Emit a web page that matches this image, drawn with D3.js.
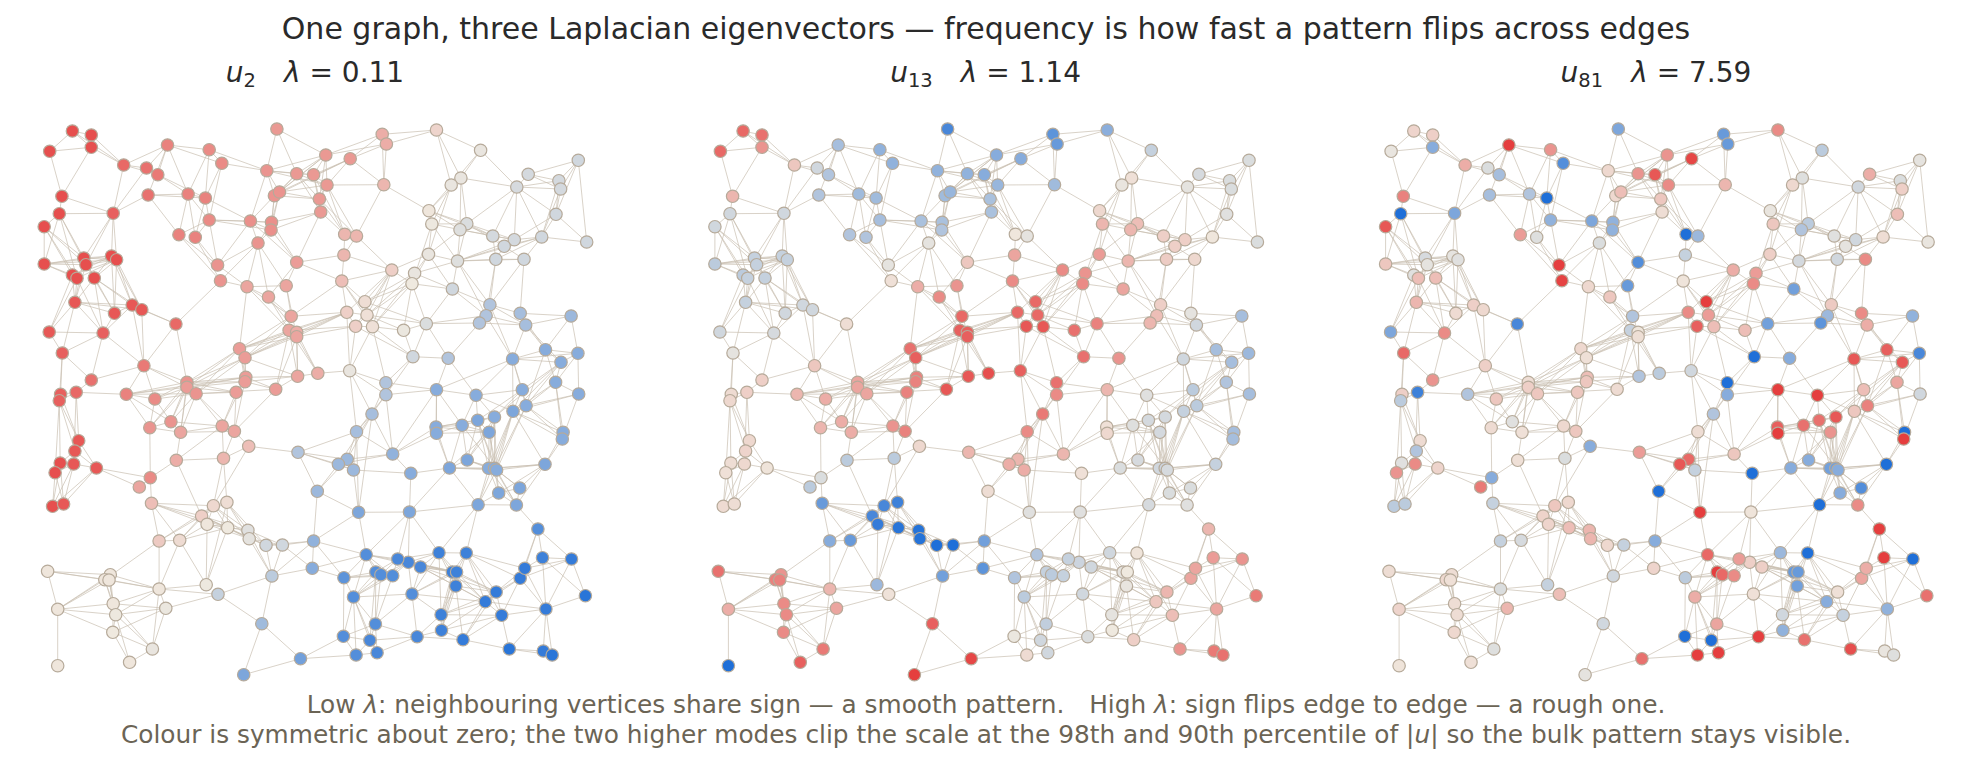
<!DOCTYPE html>
<html><head><meta charset="utf-8">
<script src="https://cdnjs.cloudflare.com/ajax/libs/d3/7.8.5/d3.min.js"></script>
<style>html,body{margin:0;padding:0;background:#fff}svg{display:block}text{font-family:"DejaVu Sans",sans-serif}</style>
</head><body><svg id="c" width="1972" height="770"></svg>
<script>
const titleText = "One graph, three Laplacian eigenvectors \u2014 frequency is how fast a pattern flips across edges";
const modeNames = ["2","13","81"];
const eigenvalues = ["0.11","1.14","7.59"];
const nodeX = [
72.4,91.3,91.3,49.7,167.5,209.2,221.8,123.7,146.5,157.8,
61.9,148.1,188.1,205.4,59.3,113.2,44.2,209.2,178.9,195.3,
44.2,83.8,85.9,111.5,116.6,72.4,77,94.3,74.9,114.5,
132.2,141.8,49.2,103.1,175.9,62.3,143.9,91.3,60.6,59.3,
76.2,126.3,154.9,186.9,186.9,196.1,236.1,245.8,245,275.7,
297.6,317.8,349.7,239.5,245,289.1,296.7,296.7,291.2,268.5,
247,286.2,220.5,217.6,296.7,258,250.4,271.5,271,274.4,
279.5,266.8,296.7,313.6,325.8,350.2,327,319.4,320.7,276.9,
382.2,386.4,383.8,436.5,480.6,460.9,451.2,428.9,431.8,466.8,
460,428.5,457.5,344.7,356.5,343.9,341.8,391.8,414.6,412,
452.4,364.9,346.8,367,355.6,372.5,403.6,426.3,489.9,486.1,
479.4,520.2,525.7,571.1,516.8,528.2,558.9,560.6,578.3,556,
586.7,541.7,514.3,492.8,504.2,495.8,524,412.9,448.2,512.6,
545.5,561,577.9,385.9,385.9,436.5,476,522.3,555.6,578.7,
526.1,513,494.5,477.7,462.1,436,436.5,489.1,372,356.5,
392.7,347.2,338.4,353.5,410.8,449.5,467.2,488.6,494.5,496.6,
545,519.8,498.7,478.1,516.4,563.1,562.3,317.3,298,358.6,
409.5,537.9,248.7,223.5,234.4,222.2,180.6,170.9,149.8,176.3,
150.3,139.3,78.7,74.9,60.2,73.7,55.1,96.4,52.6,63.6,
151.5,213.4,226.9,201.6,207.1,227.7,247.9,249.2,266,282.4,
313.6,312.3,271.9,218,206.2,159.1,179.7,47.6,110.3,104.8,
109,159.1,165.8,113.2,57.7,115.7,112.8,152.4,129.6,57.7,
261.8,243.7,300.5,343.4,356.1,377.1,369.9,375.4,417.1,441.5,
463,441.1,501.7,485.3,496.2,455.8,452.4,456.6,520.2,524.8,
542.5,571.5,585.4,545.9,509.3,543.3,552.2,439,466.3,420.5,
408.3,397.7,366.2,375.8,380.9,392.7,343.9,353.5,412];
const nodeY = [
131,135,147.3,151.3,145,149.7,163.3,165,168,174.7,
196.3,195,194,198,213.7,213.3,226.7,220,234.7,237.3,
264,258,264.7,256,259.7,275,278.3,278,302.3,313.3,
305,309.7,332,333,324,353,365.7,380,394.3,400.7,
392.3,394.3,399,382.3,387.3,393.7,392.3,377.3,381.7,389.3,
376.3,373.3,370.7,348.7,357.7,330.3,332.3,336.7,316.3,297,
286.7,285.7,280.7,265,262.3,243,221,222.3,230,195.7,
192,170.7,173.7,174.7,155,158.7,185,199,212,129,
134.3,144,184.7,130,150.3,178,185,210.7,224,223.7,
229.7,254.3,261,234.3,236,255,281,270,273.3,283.7,
289,301.7,312.3,315,326.3,326.7,330.3,323.7,304.7,315.7,
323,313.3,325,316,187,174.3,180.7,189,160.3,214.3,
242,237,239.7,236,246.3,259.3,259.3,356.7,358.3,359,
349.7,362.3,353.3,382.7,394.7,389.7,395.3,389.7,382.3,394,
405.7,411.3,417,420.3,425.3,427,433.3,432.3,414,431.7,
454,459.3,464.3,470,473.3,468,460,468.3,468.3,470,
464.3,488,493,504.7,505,432.3,439,491.3,452.3,512.3,
512,529,446.3,458.3,431.3,426,432.3,421.7,427.7,460.3,
477.7,487,440.7,451,463,464,472.7,468,506.3,504,
503.3,505.7,502.3,516,524.3,527.7,530.3,538.7,545.3,545,
541,568.3,576,594.3,584.7,541,540.3,571.3,574.7,579.7,
580,589,608.3,603.7,609.3,614.7,632.3,649,662.3,665.7,
623.7,674.7,658.7,636.3,655,652.7,640.3,624,636.7,630.3,
639.7,614.7,615.3,601.7,592,586,572,572,578.3,568.3,
557.7,559,595.7,609,649,651,655,552.7,553,567,
562.3,559,554.7,572,574.7,575.7,577.7,597,594];
const u2 = [
-.9,-.9,-.9,-.9,-.6,-.55,-.55,-.75,-.7,-.65,
-.9,-.7,-.6,-.6,-.9,-.8,-.9,-.55,-.6,-.6,
-.9,-.9,-.9,-.9,-.9,-.9,-.9,-.9,-.85,-.85,
-.85,-.85,-.85,-.8,-.75,-.8,-.65,-.7,-.8,-.8,
-.75,-.6,-.55,-.5,-.45,-.5,-.45,-.45,-.45,-.45,
-.4,-.35,.03,-.45,-.45,-.4,-.35,-.4,-.4,-.4,
-.4,-.4,-.5,-.5,-.45,-.5,-.52,-.52,-.52,-.5,
-.5,-.5,-.47,-.47,-.47,-.47,-.47,-.47,-.47,-.47,
-.35,-.35,-.3,-.12,.03,.03,.03,-.02,.01,.1,
.08,.03,.08,-.3,-.3,-.3,-.25,-.15,.03,0,
.15,-.07,-.15,-.05,-.15,-.05,.02,.1,.3,.3,
.3,.35,.35,.4,.12,.13,.13,.13,.15,.15,
.15,.15,.13,.13,.15,.15,.15,.15,.3,.5,
.5,.5,.5,.3,.3,.5,.5,.5,.5,.5,
.5,.55,.5,.55,.5,.5,.5,.55,.35,.35,
.45,.4,.4,.4,.5,.55,.55,.5,.5,.5,
.55,.55,.55,.55,.55,.5,.5,.4,.3,.55,
.55,.75,-.25,-.3,-.4,-.4,-.4,-.5,-.5,-.35,
-.55,-.4,-.85,-.85,-.9,-.85,-.9,-.85,-.9,-.85,
-.25,-.1,-.07,-.15,-.02,0,.07,.05,.15,.15,
.45,.5,.25,.2,.01,-.18,-.08,-.02,-.02,-.02,
-.02,-.02,.02,-.02,-.02,.01,0,.03,-.02,-.02,
.38,.55,.6,.75,.75,.8,.8,.75,.8,.85,
.9,.85,.9,.9,.9,.85,.85,.85,.9,.9,
.85,.9,.95,.9,.95,.9,.95,.85,.85,.8,
.8,.8,.75,.75,.75,.75,.7,.75,.75];
const u13 = [
-.75,-.7,-.5,-.75,.35,.45,.45,-.2,.15,.3,
-.3,.3,.38,.38,.15,.15,.15,.35,.3,.3,
.25,.2,.2,.2,.2,.25,.2,.2,.2,.15,
.15,.15,.15,.12,-.07,.05,-.2,-.15,-.08,-.1,
-.15,-.3,-.35,-.4,-.4,-.4,-.6,-.6,-.6,-.85,
-.85,-.9,-.8,-.7,-.8,-.8,-.8,-.8,-.75,-.55,
-.35,-.5,-.05,.05,-.2,.05,.33,.33,.3,.38,
.42,.45,.45,.5,.5,.5,.42,.33,.33,.8,
.7,.65,.38,.48,.2,-.05,.03,-.1,-.3,-.25,
-.3,-.45,-.3,-.02,.05,-.4,-.55,-.55,-.5,-.55,
-.4,-.75,-.75,-.75,-.85,-.85,-.7,-.6,-.15,-.25,
-.3,.05,.15,.35,.05,.12,.1,.1,.1,.07,
.1,-.02,-.15,-.15,-.15,-.17,-.1,-.7,-.5,.15,
.35,.35,.4,-.7,-.55,-.3,.07,.25,.3,.35,
.25,.2,.13,.13,.08,-.05,-.1,.13,-.65,-.55,
-.3,-.3,-.35,-.35,-.05,.1,.12,.15,.17,.12,
.2,.1,.1,.12,.07,.35,.35,-.07,-.3,.07,
.07,-.3,-.1,.25,-.6,-.5,-.35,-.35,-.3,.25,
.1,.25,-.1,-.12,-.07,-.1,-.05,-.03,-.08,-.07,
.65,.8,.85,.8,.9,.95,.97,.97,1,1,
.6,.7,.6,-.04,.4,.5,.65,-.7,-.5,-.6,
-.6,-.3,-.4,-.55,-.35,-.55,-.55,-.65,-.8,1,
-.8,-1,-.95,.02,-.08,.15,.15,.22,.1,0,
-.15,.05,-.25,-.2,-.3,.03,.05,0,-.4,-.4,
-.45,-.5,-.65,-.4,-.5,-.65,-.7,.15,-.03,.15,
.17,.2,.3,.2,.25,.2,.3,.25,.15];
const u81 = [
-.12,-.15,.5,.03,-1,-.5,.75,-.35,.1,.35,
-.6,.35,.3,1,1,.55,-.85,.45,-.45,.08,
-.2,.12,.05,.05,.07,.07,-.25,-.25,-.3,-.08,
-.15,-.1,.55,-.55,.8,-.75,-.15,-.5,-.15,.25,
.85,.3,-.2,-.07,-.15,-.2,-.2,-.25,-.2,-.08,
.3,.25,.15,-.1,-.05,.2,-.02,-.06,.3,-.2,
-.1,.65,-.97,-1,.75,.1,.55,.45,.45,-.1,
-.25,-.1,-.5,-.85,-.5,-.95,-.55,-.2,-.07,.55,
.65,.65,-.3,-.55,.25,.08,-.1,.03,-.2,.25,
.3,-.15,.13,1,.4,.2,-.03,-.35,-.45,-.55,
.6,-1,-.55,-.45,-.8,-.25,-.25,.6,-.18,.4,
.7,-.55,-.35,.45,.15,-.35,.1,-.15,.05,-.25,
.03,-.07,.15,.07,.05,.15,-.55,1,.5,-.85,
-.8,-.85,.8,1,.5,-1,-1,-.25,-.4,.15,
-.6,-.2,-.85,-.7,-.7,-.8,-1,-.5,.3,-.07,
-.2,-.75,-.85,.2,1,.5,.5,.6,.6,.5,
1,.75,.5,1,-.55,1,-1,1,-.45,-1,
-.03,-1,.5,.1,-.2,-.1,-.05,.07,-.08,-.05,
.5,-.65,-.08,.3,.07,-.55,-.5,-.12,.25,.25,
.2,-.2,-.1,-.13,-.12,-.25,-.3,-.3,-.1,.2,
.5,-.12,.15,-.25,.2,.2,.12,-.07,-.07,-.1,
-.05,.1,-.3,-.07,-.12,-.07,-.1,.08,-.05,-.03,
.15,.05,-.7,1,-1,-1,1,-.4,-1,.45,
-.7,.15,.2,.5,-.05,.6,.65,.65,-.4,-.35,
-1,1,-.7,.45,-.9,.03,.08,.4,1,-.15,
-.15,-.45,-.75,-1,-.75,-.55,.25,-.35,-.05];
const edges = [
[0,1],[0,2],[0,3],[1,2],[2,3],[1,7],[0,7],[2,7],[2,10],[3,10],[10,14],[10,15],[14,15],[14,16],[16,20],[14,20],[7,15],[7,4],[7,8],[7,9],[4,8],[4,9],[4,11],[4,5],[4,6],[4,12],[8,9],[9,12],[9,13],[5,6],[5,12],[5,13],[6,13],[6,17],[8,15],[11,15],[11,12],[11,13],[11,18],[12,13],[12,18],[12,17],[12,19],[13,17],[13,19],[17,18],[17,19],[17,63],[18,63],[18,62],[19,63],[19,62],
[15,21],[15,22],[15,24],[15,23],[16,21],[16,22],[16,26],[16,25],[14,21],[14,22],[14,26],[20,21],[20,22],[20,23],[20,24],[20,25],[20,26],[21,24],[21,23],[22,24],[22,23],[25,24],[26,24],[25,23],[27,24],[27,23],[21,28],[22,28],[25,28],[26,28],[27,28],[21,27],[21,29],[22,29],[24,29],[23,29],[24,30],[23,30],[23,31],[24,31],[27,30],[27,31],[26,33],[27,33],[25,32],[28,32],[26,32],[28,33],[28,30],[28,31],[28,29],[29,30],[29,33],[30,33],[30,34],[31,34],[30,36],[31,36],[32,33],[32,35],[33,35],[33,36],[28,35],[35,37],[35,38],[35,39],[37,40],[37,36],[33,37],[36,41],[36,42],[36,43],[36,44],[34,36],[34,43],[38,40],[39,40],[40,41],
[43,53],[44,53],[43,54],[44,54],[45,53],[45,54],[43,46],[44,46],[43,47],[44,47],[44,48],[43,48],[45,46],[41,43],[41,44],[41,45],[41,42],[42,44],[42,45],[42,43],[45,49],[41,47],
[79,71],[79,72],[79,74],[71,72],[71,73],[71,74],[71,76],[71,69],[71,70],[71,6],[71,5],[71,66],[74,72],[74,73],[74,80],[74,81],[74,76],[74,77],[74,70],[74,69],[75,81],[75,80],[75,73],[75,76],[75,82],[75,70],[75,69],[72,73],[72,76],[72,77],[72,78],[72,69],[72,70],[73,76],[73,77],[73,78],[73,93],[76,77],[76,82],[76,70],[76,93],[76,94],[77,78],[77,70],[77,69],[77,93],[77,94],[78,93],[78,64],[78,67],[78,68],[70,67],[70,68],[69,67],[69,68],[69,66],[80,81],[80,83],[81,83],[81,82],[80,82],[82,94],[82,87],
[66,67],[66,68],[66,17],[66,65],[66,64],[67,65],[68,65],[67,64],[68,64],[65,60],[65,61],[65,59],[65,63],[65,62],[66,63],[17,67],[13,66],[17,68],[64,61],[64,59],[64,95],[64,96],[60,61],[60,59],[60,62],[60,63],[59,58],[59,55],[59,56],[60,58],[60,53],[60,55],[61,58],[61,57],[62,34],[95,96],[93,95],[94,95],[95,97],[94,97],[96,97],[96,58],[96,101],[96,102],[96,103],[96,105],[97,99],[97,101],[97,102],[97,103],[97,104],[97,105],[91,97],
[102,58],[102,55],[102,56],[102,57],[102,53],[102,54],[102,103],[102,104],[101,103],[101,105],[101,107],[103,104],[103,105],[104,105],[104,55],[104,57],[104,127],[104,52],[105,52],[105,106],[105,127],[103,106],[103,107],[106,107],[106,127],[105,133],[101,99],[101,98],[103,98],[103,99],[105,99],[105,98],[106,99],[107,99],
[52,51],[52,102],[52,133],[52,134],[52,148],[52,149],[50,51],[51,55],[51,56],[51,57],[50,55],[50,56],[50,57],[53,55],[53,56],[53,57],[53,58],[54,55],[54,56],[54,57],[54,58],[53,54],[53,47],[53,48],[54,47],[54,48],[54,50],[55,49],[57,49],[47,48],[47,49],[48,49],[46,47],[46,48],[47,50],[48,50],[49,50],
[83,84],[83,85],[83,86],[84,85],[84,86],[84,114],[85,114],[85,86],[86,87],[85,87],[86,88],[85,89],[85,90],[86,91],[87,88],[87,90],[87,89],[87,123],[88,89],[88,90],[88,91],[88,92],[88,99],[89,90],[89,122],[89,123],[89,124],[90,123],[90,122],[90,92],[89,92],[114,115],[114,116],[114,117],[114,119],[114,89],[114,122],[114,123],[114,121],[115,116],[115,117],[115,118],[116,118],[116,117],[117,118],[116,119],[117,119],[118,119],[118,120],[117,121],[116,121],[119,120],[119,121],[119,122],[121,120],[121,122],[121,124],[121,126],[121,125],[122,123],[122,124],[123,124],[123,125],[124,125],[124,126],[125,126],
[92,125],[92,124],[92,122],[92,121],[92,126],[91,92],[91,98],[91,99],[91,90],[91,100],[92,98],[92,100],[100,98],[100,99],[100,107],[100,108],[100,109],[92,109],[92,108],[125,108],[125,109],[126,108],[126,111],[108,109],[108,110],[108,111],[108,112],[109,110],[109,112],[109,129],[110,107],[110,128],[107,109],[110,112],[111,112],[111,113],[112,113],[112,129],[111,130],[112,130],[112,131],[113,130],[113,132],[108,129],[129,130],[129,131],[129,132],[130,131],[130,132],[131,132],[130,138],[131,138],[131,137],[132,138],[132,139],[138,139],[129,135],[129,137],[129,136],[129,140],[129,141],[131,140],[131,141],[131,142],[130,140],[138,140],[138,141],[139,140],[139,141],[137,140],[137,141],[137,142],
[107,127],[107,128],[127,128],[128,135],[128,136],[127,133],[127,134],[133,134],[133,135],[134,135],[134,148],[133,148],[134,149],[134,150],[148,149],[148,150],[148,151],[148,152],[149,151],[149,153],[149,168],[149,169],[148,169],[149,150],[135,145],[135,146],[135,150],[135,144],[135,136],[136,143],[136,144],[136,142],[136,141],[136,137],[137,143],
[172,168],[172,173],[172,174],[168,152],[168,151],[168,153],[168,167],[167,151],[167,152],[167,169],[167,200],[151,150],[152,150],[151,153],[152,153],[153,154],[153,169],[150,154],[150,145],[150,146],[154,170],[154,155],[169,170],[169,200],[169,252],[170,252],[170,247],[170,250],[170,251],[170,155],[170,163],
[200,198],[200,199],[200,201],[200,202],[200,252],[200,256],[201,199],[201,202],[201,252],[201,256],[199,202],[198,202],[196,202],[197,202],[198,199],[196,198],[196,199],[197,198],[197,199],[195,196],[195,197],[195,198],[192,196],[192,197],[192,198],[191,196],[191,197],[191,195],[193,196],[193,197],[193,198],[194,195],[194,196],[194,197],[194,193],[194,191],[192,193],[192,191],[192,195],[191,193],[193,195],
[202,203],[203,220],[203,212],[203,211],[204,211],[204,206],[204,192],[204,194],[204,195],[202,220],[220,221],[220,222],[221,222],[222,223],[222,224],[223,224],[223,226],[223,227],[223,257],[223,256],[224,225],[224,226],[224,257],[225,226],[225,227],[225,228],[225,257],[226,227],[226,257],[226,228],[226,253],[227,253],[227,254],[227,255],[227,257],[227,228],[227,258],[256,257],[256,253],[256,254],[256,255],[257,253],[257,254],[257,255],[257,258],[253,254],[253,255],[254,255],[252,253],[252,254],[252,255],[252,251],[252,250],[252,256],[252,249],[252,257],[251,250],[251,249],[250,249],[251,253],[251,254],[251,255],[250,254],[250,255],[250,257],
[145,144],[146,144],[145,147],[146,147],[144,147],[145,143],[145,142],[144,142],[143,147],[142,147],[145,155],[146,155],[144,155],[144,156],[143,156],[143,157],[147,156],[147,155],[142,156],[147,158],[147,159],[147,157],[142,158],[142,159],[142,157],[141,158],[141,159],[141,157],[141,163],[140,158],[140,159],[143,158],[143,159],[144,159],[141,160],[141,165],[141,166],[140,165],[140,166],[139,166],[138,165],[138,166],
[155,156],[155,157],[155,158],[155,159],[156,157],[156,158],[156,159],[157,158],[158,159],[157,160],[158,160],[159,160],[159,161],[159,162],[159,163],[158,161],[158,162],[158,164],[159,164],[157,162],[157,163],[155,163],[157,164],[161,160],[160,164],[160,162],[161,162],[162,163],[163,164],[162,164],[161,164],[164,171],[165,166],[166,160],[165,160],
[163,247],[163,248],[171,239],[171,240],[171,241],[171,238],[247,248],[247,249],[247,236],[247,237],[247,235],[247,231],[248,236],[248,237],[248,235],[248,233],[248,234],[248,232],[248,238],[248,239],[247,250],[247,251],[236,237],[236,249],[237,249],[235,231],[235,229],[236,231],[237,231],[237,229],[236,229],[235,230],[249,235],[249,233],[249,234],[250,236],[250,237],[251,236],[251,237],[236,233],[236,234],[237,233],[237,234],[235,233],[235,234],
[258,249],[258,250],[258,236],[258,237],[258,231],[258,247],[258,228],[258,233],[231,229],[231,228],[231,233],[231,232],[231,234],[229,233],[229,232],[229,230],[229,228],[228,230],[230,233],[230,232],[230,234],[230,244],[233,234],[233,232],[233,238],[233,243],[234,238],[234,239],[234,232],[232,243],[232,244],[232,238],[243,238],[243,239],[243,240],[243,241],[243,242],[243,244],[243,245],[243,246],[244,245],[244,246],[245,246],[238,239],[239,240],[238,241],[240,241],[241,242],[240,242],[239,241],
[39,182],[39,183],[38,182],[39,184],[39,186],[40,182],[40,185],[182,183],[182,185],[182,187],[183,184],[183,185],[183,187],[184,185],[184,186],[184,188],[184,189],[185,186],[185,187],[185,188],[185,189],[186,188],[186,189],[187,188],[187,189],[187,180],[187,181],[180,181],[180,179],[180,190],[180,178],[178,177],[178,176],[178,42],[178,41],[178,43],[178,44],[177,176],[177,42],[177,43],[177,44],[177,175],[177,45],[176,175],[176,174],[176,44],[176,43],[176,179],[176,45],[175,174],[175,46],[175,47],[174,47],[174,46],[175,45],[175,179],[175,173],[174,173],[172,191],[173,179],[173,191],[173,192],[179,193],[174,49],[45,174],[41,177],
[190,191],[190,193],[190,195],[190,194],[190,205],[190,206],[205,193],[205,191],[205,206],[206,193],[206,191],[206,194],[206,195],[205,211],[206,211],[211,212],
[207,208],[207,209],[207,210],[207,214],[208,209],[208,210],[209,210],[208,211],[209,211],[210,211],[214,209],[214,210],[214,208],[208,213],[209,213],[210,213],[209,215],[210,215],[213,215],[213,211],[213,212],[215,212],[215,211],[215,216],[213,216],[214,213],[214,215],[214,216],[214,219],[216,217],[216,218],[213,217],[215,217],[215,218],[217,218],[211,217],[212,217],[212,216],[205,209]
];

const W = 1972, H = 770;
const svg = d3.select("#c").attr("viewBox", [0,0,W,H]);
const panelOffsets = [0, 670.7, 1341.4];
const subtitleCenters = [315, 985.6, 1656];
const modes = [u2, u13, u81];
const xBase = d3.scaleLinear().domain([0,600]).range([0,600]);
const yScale = d3.scaleLinear().domain([100,700]).range([100,700]);
const colour = d3.scaleLinear().domain([-1,0,1]).range(["#e53e3e","#efe9df","#1f6fd8"]).clamp(true);
const uniqueEdges = Array.from(new Map(edges.map(e => [Math.min(...e)+"-"+Math.max(...e), e])).values());

svg.append("text").attr("x",986).attr("y",39).attr("text-anchor","middle")
  .attr("font-size",30).attr("fill","#2a2a2a").text(titleText);

modes.forEach((vals, p) => {
  const g = svg.append("g");
  const x = xBase.copy().range([panelOffsets[p], 600 + panelOffsets[p]]);
  g.append("g").selectAll("line").data(uniqueEdges).join("line")
    .attr("x1", d => x(nodeX[d[0]])).attr("y1", d => yScale(nodeY[d[0]]))
    .attr("x2", d => x(nodeX[d[1]])).attr("y2", d => yScale(nodeY[d[1]]))
    .attr("stroke","#c9bfb0").attr("stroke-opacity",0.7).attr("stroke-width",1);
  g.append("g").selectAll("circle").data(vals).join("circle")
    .attr("cx",(d,i)=>x(nodeX[i])).attr("cy",(d,i)=>yScale(nodeY[i])).attr("r",6.2)
    .attr("fill",d=>colour(d)).attr("stroke","#b6aa9a").attr("stroke-width",1.2);
  const t = svg.append("text").attr("x",subtitleCenters[p]).attr("y",82).attr("text-anchor","middle")
    .attr("font-size",28).attr("fill","#2a2a2a");
  t.append("tspan").attr("font-style","italic").text("u");
  t.append("tspan").attr("font-size",19.5).attr("dy",4.5).text(modeNames[p]);
  t.append("tspan").attr("dy",-4.5).text("\u2002\u2002");
  t.append("tspan").attr("font-style","italic").text("\u03bb");
  t.append("tspan").text(" = "+eigenvalues[p]);
});

const f1 = svg.append("text").attr("x",986).attr("y",713).attr("text-anchor","middle").attr("font-size",24.8).attr("fill","#6b6455");
f1.append("tspan").text("Low ");
f1.append("tspan").attr("font-style","italic").text("\u03bb");
f1.append("tspan").text(": neighbouring vertices share sign \u2014 a smooth pattern.\u2003High ");
f1.append("tspan").attr("font-style","italic").text("\u03bb");
f1.append("tspan").text(": sign flips edge to edge \u2014 a rough one.");
const f2 = svg.append("text").attr("x",986).attr("y",743).attr("text-anchor","middle").attr("font-size",24.8).attr("fill","#6b6455");
f2.append("tspan").text("Colour is symmetric about zero; the two higher modes clip the scale at the 98th and 90th percentile of |");
f2.append("tspan").attr("font-style","italic").text("u");
f2.append("tspan").text("| so the bulk pattern stays visible.");
</script></body></html>
